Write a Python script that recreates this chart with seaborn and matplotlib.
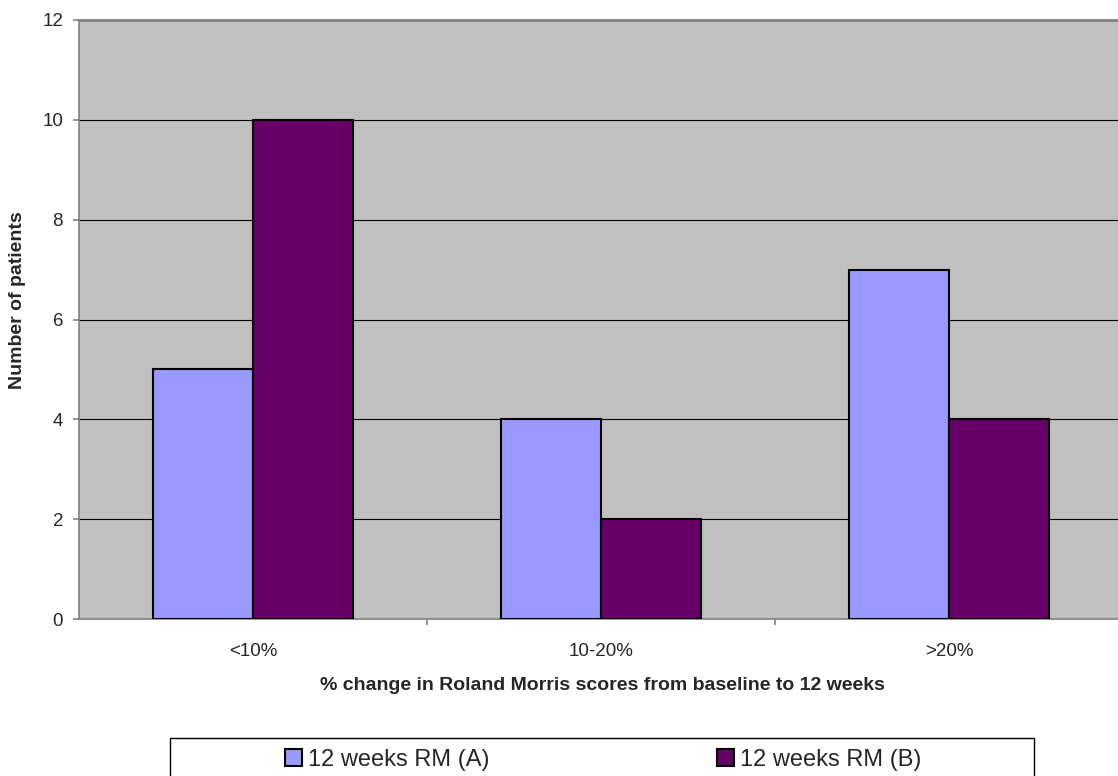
import matplotlib
matplotlib.use("Agg")
import matplotlib.pyplot as plt
import seaborn as sns
import pandas as pd
from matplotlib.patches import Patch, Rectangle

categories = ["<10%", "10-20%", ">20%"]
series_names = ["12 weeks RM (A)", "12 weeks RM (B)"]
values_a = [5, 4, 7]
values_b = [10, 2, 4]
colors = ["#9999FF", "#660066"]

df = pd.DataFrame({
    "category": categories * 2,
    "series": [series_names[0]] * 3 + [series_names[1]] * 3,
    "value": values_a + values_b,
})

sns.set_style("white")
plt.rcParams["font.family"] = ["Liberation Sans", "DejaVu Sans"]

W, H = 1118, 776
fig = plt.figure(figsize=(W / 100, H / 100), dpi=100)
left, right, top, bottom = 79, 1123, 20, 619
ax = fig.add_axes([left / W, 1 - bottom / H, (right - left) / W, (bottom - top) / H])
ax.set_facecolor("#C0C0C0")

sns.barplot(data=df, x="category", y="value", hue="series", order=categories,
            hue_order=series_names, palette=colors, width=0.575, gap=0,
            edgecolor="black", linewidth=1.5, saturation=1, ax=ax, legend=False, zorder=3)

ax.set_ylim(0, 12)
ax.set_xlim(-0.5, 2.5)
ax.set_yticks(range(0, 13, 2))
ax.yaxis.grid(True, color="black", linewidth=0.8, zorder=1)
ax.set_axisbelow(True)
ax.set_xticks([0, 1, 2])
ax.set_xticklabels(categories, fontsize=13.5)
ax.tick_params(axis="x", length=0, pad=17)
ax.tick_params(axis="y", labelsize=13.5, length=4.5, pad=7, direction="out", left=True,
               color="#808080", width=1.2)
ax.set_xticks([0.5, 1.5], minor=True)
ax.tick_params(axis="x", which="minor", length=4.5, direction="out", bottom=True,
               color="#808080", width=1.2)

for s in ["top", "right"]:
    ax.spines[s].set_visible(False)
for s in ["left", "bottom"]:
    ax.spines[s].set_color("#808080")
    ax.spines[s].set_linewidth(1.2)
ax.axhline(12, color="#808080", linewidth=2, zorder=4, clip_on=False)

ax.set_ylabel("Number of patients", fontsize=14, fontweight="bold")
ax.yaxis.label.set_va("center")
ax.yaxis.set_label_coords(-(left - 18) / (right - left), (bottom - 300) / (bottom - top))
ax.set_xlabel("% change in Roland Morris scores from baseline to 12 weeks", fontsize=14,
              fontweight="bold")
ax.xaxis.label.set_va("center")
ax.xaxis.set_label_coords((602 - left) / (right - left), -(685 - bottom) / (bottom - top))

# legend frame (runs off the bottom edge as in the reference)
fig.add_artist(Rectangle((170 / W, 1 - 790 / H), (1034 - 170) / W, (790 - 738) / H,
                         transform=fig.transFigure, facecolor="white", edgecolor="black",
                         linewidth=1.0))
handles = [Patch(facecolor=c, edgecolor="black", linewidth=1.5) for c in colors]
leg = fig.legend(handles, series_names, loc="center",
                 bbox_to_anchor=(603 / W, 1 - 760 / H),
                 ncol=2, fontsize=17, frameon=False,
                 handlelength=0.72, handleheight=0.72, handletextpad=0.25,
                 borderaxespad=0, borderpad=0, columnspacing=9.66)

fig.savefig("out.png", dpi=100)
